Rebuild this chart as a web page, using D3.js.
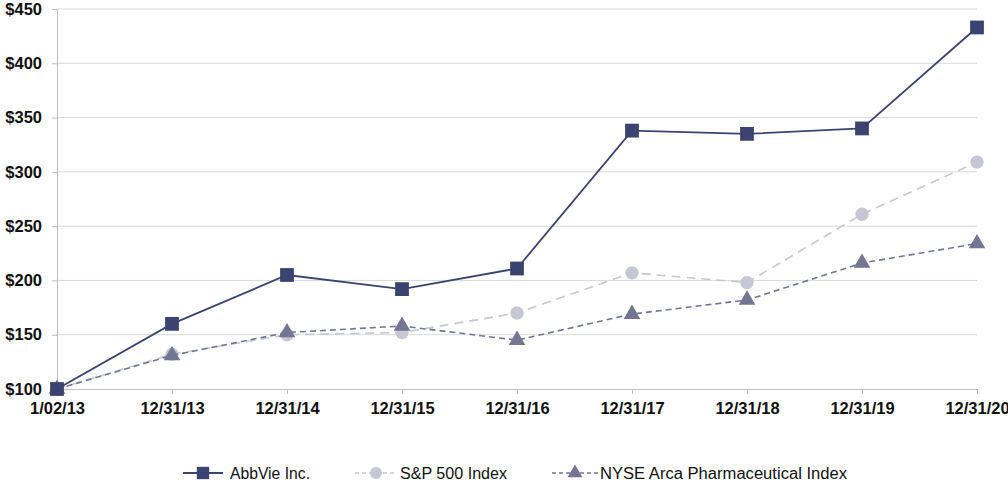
<!DOCTYPE html>
<html><head><meta charset="utf-8">
<script src="https://cdn.jsdelivr.net/npm/d3@7"></script>
<style>body{margin:0;background:#fff}svg{display:block}</style>
</head><body>
<svg id="c" width="1008" height="482"></svg>
<script>
const categories = ["1/02/13","12/31/13","12/31/14","12/31/15","12/31/16","12/31/17","12/31/18","12/31/19","12/31/20"];
const abbvie = [100,160,205,192,211,338,335,340,433];
const sp500 = [100,132,150,152,170,207,198,261,309];
const nyseArca = [100,131,152,158,145,169,182,216,234];
const yTicks = [100,150,200,250,300,350,400,450];
const seriesNames = ["AbbVie Inc.","S&P 500 Index","NYSE Arca Pharmaceutical Index"];

const svg = d3.select("#c");
const x = d3.scalePoint().domain(categories).range([57,977]);
const y = d3.scaleLinear().domain([100,450]).range([389,9]);
const FONT = "Liberation Sans, Arial, Helvetica, sans-serif";

// gridlines
svg.append("g").selectAll("line").data(yTicks.slice(1)).join("line")
  .attr("x1",57).attr("x2",977).attr("y1",d=>y(d)).attr("y2",d=>y(d))
  .attr("stroke","#d9d9d9").attr("stroke-width",1);

const yAxis = svg.append("g").attr("transform","translate(57,0)")
  .call(d3.axisLeft(y).tickValues(yTicks).tickFormat(d=>"$"+d).tickSize(5).tickPadding(10));
yAxis.select(".domain").attr("stroke","#bdbdbd");
yAxis.selectAll(".tick line").attr("stroke","#bdbdbd");
yAxis.selectAll("text").attr("font-family",FONT).attr("font-weight","bold").attr("font-size",16.5).attr("fill","#111");

const xAxis = svg.append("g").attr("transform","translate(0,389)")
  .call(d3.axisBottom(x).tickSize(5).tickPadding(8));
xAxis.select(".domain").attr("stroke","#bdbdbd");
xAxis.selectAll(".tick line").attr("stroke","#bdbdbd");
xAxis.selectAll("text").attr("font-family",FONT).attr("font-weight","bold").attr("font-size",16.5).attr("fill","#111");

const line = d3.line().x((d,i)=>x(categories[i])).y(d=>y(d));

const styles = [
  {data:abbvie, color:"#3b4470", dash:null, width:1.8, sym:d3.symbolSquare, size:190},
  {data:sp500, color:"#c5c7d3", dash:"9,6", width:1.6, sym:d3.symbolCircle, size:140},
  {data:nyseArca, color:"#727692", dash:"6,4", width:1.6, sym:d3.symbolTriangle, size:120}
];
[styles[1], styles[2], styles[0]].forEach(s=>{
  svg.append("path").datum(s.data).attr("d",line).attr("fill","none")
    .attr("stroke",s.color).attr("stroke-width",s.width).attr("stroke-dasharray",s.dash);
  svg.append("g").selectAll("path").data(s.data).join("path")
    .attr("transform",(d,i)=>`translate(${x(categories[i])},${y(d)})`)
    .attr("d",d3.symbol().type(s.sym).size(s.size)).attr("fill",s.color);
});

// legend
const lg = [
  {x:183, w:40, tx:230, tw:80, name:seriesNames[0], s:styles[0]},
  {x:355, w:42, tx:400, tw:107, name:seriesNames[1], s:styles[1]},
  {x:552, w:46, tx:600, tw:247, name:seriesNames[2], s:styles[2]}
];
lg.forEach(l=>{
  const g = legend = svg.append("g").attr("transform",`translate(${l.x},473)`);
  g.append("line").attr("x1",0).attr("x2",l.w).attr("stroke",l.s.color).attr("stroke-width",l.s.width).attr("stroke-dasharray",l.s.dash?"4,3":null);
  g.append("path").attr("transform",`translate(${l.w/2},0)`).attr("d",d3.symbol().type(l.s.sym).size(l.s.size*0.8)).attr("fill",l.s.color);
  g.append("text").attr("x",l.tx-l.x).attr("y",5.5).text(l.name)
    .attr("textLength",l.tw).attr("lengthAdjust","spacingAndGlyphs")
    .attr("font-family",FONT).attr("font-size",16).attr("fill","#111");
});
</script>
</body></html>
